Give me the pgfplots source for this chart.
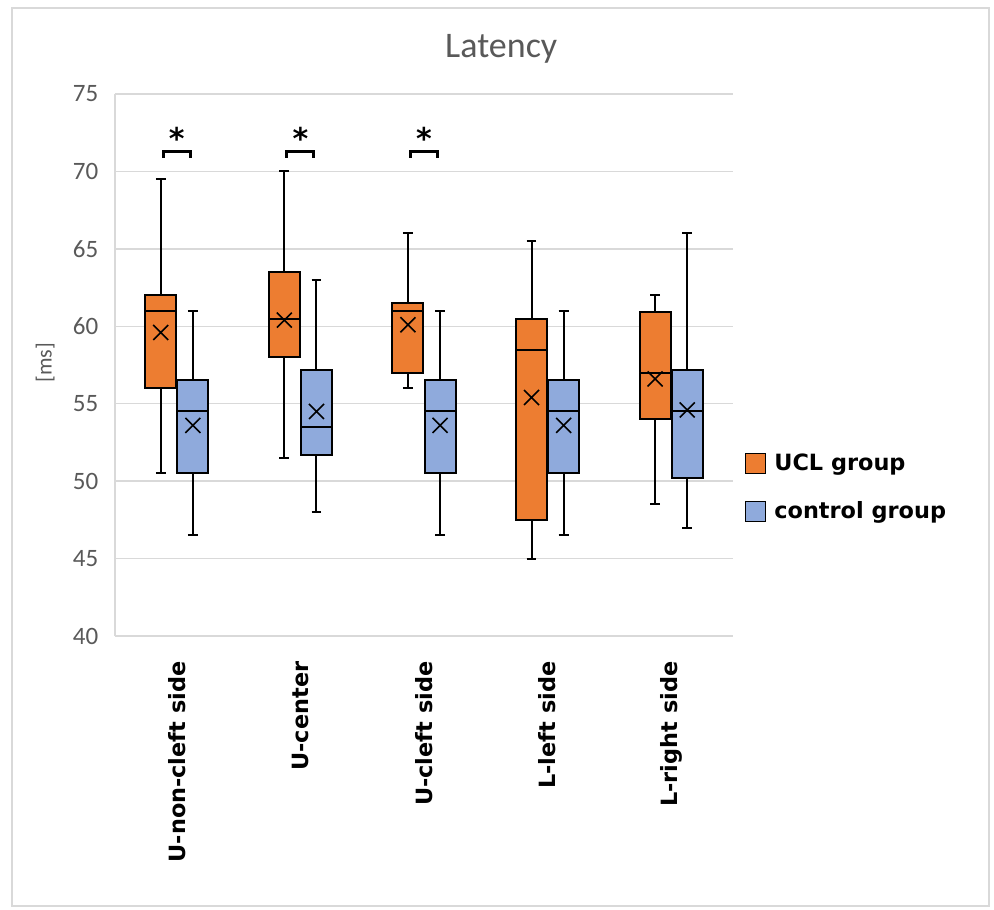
\documentclass[border=0pt]{standalone}
\usepackage{pgfplots}
\pgfplotsset{compat=1.18}
\usepgfplotslibrary{statistics}
\usepackage{fontspec}
\setmainfont{Carlito}
\newfontfamily\dv{DejaVu Sans}
\definecolor{uclor}{HTML}{ED7D31}
\definecolor{ctlbl}{HTML}{8FAADC}
\definecolor{txtgray}{HTML}{595959}
\definecolor{gridgray}{HTML}{D9D9D9}
\pgfplotsset{
  uclbox/.style={fill=uclor, draw=black, line width=1pt, solid, mark=none},
  ctlbox/.style={fill=ctlbl, draw=black, line width=1pt, solid, mark=none},
  sqlegend/.style={legend image code/.code={\draw[##1, line width=0.6pt] (0pt,-5pt) rectangle (10pt,5pt);}},
}
\begin{document}
\begin{tikzpicture}
\useasboundingbox (-57.5pt,-136.5pt) rectangle (439.5pt,318pt);
\draw[gridgray, line width=0.6pt] (-51.5pt,-135pt) rectangle (437pt,314pt);
\begin{axis}[
  at={(0pt,0pt)}, anchor=south west,
  scale only axis, width=309pt, height=271pt,
  xmin=0.5, xmax=5.5, ymin=40, ymax=75,
  ytick={40,45,...,75},
  xtick={1,2,3,4,5},
  xticklabels={U-non-cleft side, U-center, U-cleft side, L-left side, L-right side},
  axis x line=bottom, axis y line=left,
  axis line style={gridgray, line width=0.75pt, -},
  ymajorgrids, major grid style={gridgray, line width=0.75pt},
  tick style={draw=none},
  boxplot/draw direction=y,
  boxplot/every whisker/.style={line width=1pt},
  boxplot/every median/.style={line width=1pt},
  /pgf/number format/assume math mode=true,
  yticklabel style={font=\fontsize{12.5}{14}\selectfont, text=txtgray, anchor=east, inner sep=0pt, xshift=-6pt},
  xticklabel style={font=\dv\bfseries\fontsize{11.2}{13}\selectfont, text=black, rotate=90, anchor=east, inner sep=0pt},
  xticklabel shift=10.5pt,
  title={Latency},
  title style={font=\fontsize{18}{21}\selectfont, text=txtgray, at={(axis description cs:0.625,1.061)}, anchor=center},
  ylabel={[ms]},
  ylabel style={font=\fontsize{11}{13}\selectfont, text=txtgray, at={(axis description cs:-0.113,0.504)}, anchor=center},
  legend style={at={(1.019,0.274)}, anchor=west, draw=none, fill=none, inner sep=0pt,
    font=\dv\bfseries\fontsize{11.2}{13}\selectfont, row sep=10pt,
    nodes={inner xsep=4pt}},
  legend cell align=left,
]
% legend
\addlegendimage{sqlegend, fill=uclor, draw=black}
\addlegendentry{UCL group}
\addlegendimage{sqlegend, fill=ctlbl, draw=black}
\addlegendentry{control group}
% UCL group
\addplot+[uclbox, boxplot prepared={draw position=0.87, lower whisker=50.5, lower quartile=56.0, median=61.0, upper quartile=62.0, upper whisker=69.5, box extend=0.25, whisker extend=0.08}] coordinates {};
\addplot+[uclbox, boxplot prepared={draw position=1.87, lower whisker=51.5, lower quartile=58.0, median=60.5, upper quartile=63.5, upper whisker=70.0, box extend=0.25, whisker extend=0.08}] coordinates {};
\addplot+[uclbox, boxplot prepared={draw position=2.87, lower whisker=56.0, lower quartile=57.0, median=61.0, upper quartile=61.5, upper whisker=66.0, box extend=0.25, whisker extend=0.08}] coordinates {};
\addplot+[uclbox, boxplot prepared={draw position=3.87, lower whisker=45.0, lower quartile=47.5, median=58.5, upper quartile=60.5, upper whisker=65.5, box extend=0.25, whisker extend=0.08}] coordinates {};
\addplot+[uclbox, boxplot prepared={draw position=4.87, lower whisker=48.5, lower quartile=54.0, median=57.0, upper quartile=60.9, upper whisker=62.0, box extend=0.25, whisker extend=0.08}] coordinates {};
% control group
\addplot+[ctlbox, boxplot prepared={draw position=1.13, lower whisker=46.5, lower quartile=50.5, median=54.5, upper quartile=56.5, upper whisker=61.0, box extend=0.25, whisker extend=0.08}] coordinates {};
\addplot+[ctlbox, boxplot prepared={draw position=2.13, lower whisker=48.0, lower quartile=51.7, median=53.5, upper quartile=57.2, upper whisker=63.0, box extend=0.25, whisker extend=0.08}] coordinates {};
\addplot+[ctlbox, boxplot prepared={draw position=3.13, lower whisker=46.5, lower quartile=50.5, median=54.5, upper quartile=56.5, upper whisker=61.0, box extend=0.25, whisker extend=0.08}] coordinates {};
\addplot+[ctlbox, boxplot prepared={draw position=4.13, lower whisker=46.5, lower quartile=50.5, median=54.5, upper quartile=56.5, upper whisker=61.0, box extend=0.25, whisker extend=0.08}] coordinates {};
\addplot+[ctlbox, boxplot prepared={draw position=5.13, lower whisker=47.0, lower quartile=50.2, median=54.5, upper quartile=57.2, upper whisker=66.0, box extend=0.25, whisker extend=0.08}] coordinates {};
% means
\addplot[only marks, mark=x, mark size=5.3pt, black, line width=0.8pt] coordinates {(0.87,59.6) (1.87,60.4) (2.87,60.1) (3.87,55.4) (4.87,56.6)};
\addplot[only marks, mark=x, mark size=5.3pt, black, line width=0.8pt] coordinates {(1.13,53.6) (2.13,54.5) (3.13,53.6) (4.13,53.6) (5.13,54.6)};
% significance brackets
\draw[black, line width=1.5pt] (axis cs:0.89,70.87) -- (axis cs:0.89,71.27) -- (axis cs:1.11,71.27) -- (axis cs:1.11,70.87);
\draw[black, line width=1.5pt] (axis cs:1.89,70.87) -- (axis cs:1.89,71.27) -- (axis cs:2.11,71.27) -- (axis cs:2.11,70.87);
\draw[black, line width=1.5pt] (axis cs:2.89,70.87) -- (axis cs:2.89,71.27) -- (axis cs:3.11,71.27) -- (axis cs:3.11,70.87);
\node[anchor=base, inner sep=0pt, font=\dv\bfseries\fontsize{15}{15}\selectfont] at (axis cs:1,71.4) {*};
\node[anchor=base, inner sep=0pt, font=\dv\bfseries\fontsize{15}{15}\selectfont] at (axis cs:2,71.4) {*};
\node[anchor=base, inner sep=0pt, font=\dv\bfseries\fontsize{15}{15}\selectfont] at (axis cs:3,71.4) {*};
\end{axis}
\end{tikzpicture}
\end{document}
